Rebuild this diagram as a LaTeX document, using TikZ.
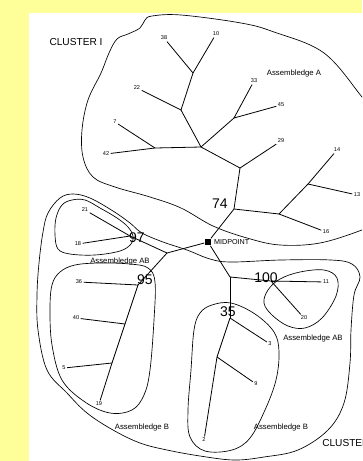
\documentclass[tikz,border=0pt]{standalone}
\usepackage{fontspec}
\setmainfont{Liberation Sans}
\usepackage{xcolor}
\definecolor{padyellow}{RGB}{255,255,153}
\usepackage{tikz}
\usetikzlibrary{positioning}

\begin{document}
\begin{tikzpicture}[
  x=0.75pt, y=-0.75pt,
  leafnum/.style={inner sep=1pt, font=\fontsize{4.2}{5}\selectfont},
  bignum/.style={inner sep=0pt, font=\fontsize{10.5}{11}\selectfont},
  grouplbl/.style={inner sep=0pt, font=\fontsize{5.8}{6}\selectfont},
  clusterlbl/.style={inner sep=0pt, font=\fontsize{7.6}{8}\selectfont},
  branch/.style={draw=black, line width=0.6pt},
  hull/.style={draw=black, line width=0.5pt}
]

%% Page and yellow margin
\useasboundingbox (0,0) rectangle (362,461);
\clip (0,0) rectangle (362,461);
\fill[padyellow] (0,0) rectangle (362,461);
\fill[white] (29,13) rectangle (362,461);

%% Cluster outlines
\draw[hull] plot[smooth, tension=0.6] coordinates {
  (378,118) (362,97) (324,53) (274,32) (241,23) (181,15) (152,16)
  (145,20) (140,28) (128,34) (117,39) (109,53) (101,73) (88,100)
  (82,130) (83,157) (93,177) (115,187) (150,197) (181,208) (213,226)
  (247,238) (280,245) (320,243) (362,230) (378,222)};
\draw[hull] plot[smooth cycle, tension=0.6] coordinates {
  (60,198) (73,194) (90,198) (113,211) (130,223) (142,233) (163,242)
  (187,250) (210,259) (231,262) (281,260) (331,260) (352,264) (360,277)
  (354,295) (351,330) (350,363) (344,403) (328,430) (298,450) (264,457)
  (234,460) (200,456) (167,450) (140,443) (113,430) (87,413) (67,393)
  (47,370) (38,330) (37,295) (39,263) (43,232) (48,213)};

%% Assembledge outlines
\draw[hull] plot[smooth cycle, tension=0.6] coordinates {
  (62,205) (72,200) (85,200) (100,208) (117,218) (128,227) (133,236)
  (131,244) (120,251) (95,255) (70,254) (58,249) (55,235) (56,218)};
\draw[hull] plot[smooth cycle, tension=0.6] coordinates {
  (60,272) (75,265) (100,263) (130,264) (148,268) (155,282) (154,320)
  (150,370) (144,395) (132,410) (110,413) (85,402) (62,380) (52,345)
  (50,310) (52,285)};
\draw[hull] plot[smooth cycle, tension=0.6] coordinates {
  (264,303) (268,290) (280,279) (300,272) (324,270) (337,278) (336,296)
  (322,318) (305,328) (288,326) (272,315)};
\draw[hull] plot[smooth cycle, tension=0.6] coordinates {
  (200,313) (212,305) (231,303) (255,314) (274,332) (279,352) (276,380)
  (265,410) (250,438) (232,450) (205,451) (190,437) (188,410) (191,370)
  (194,330)};

%% Junctions
\coordinate (j3810) at (193,73);
\coordinate (j22)   at (181,110);
\coordinate (j742)  at (155,148);
\coordinate (jA)    at (201,147);
\coordinate (j3345) at (234,118);
\coordinate (j29)   at (240,168);
\coordinate (j74)   at (234,209);
\coordinate (j16)   at (279,214);
\coordinate (j1413) at (308,184);
\coordinate (jL)    at (167,253);
\coordinate (j97)   at (130,236);
\coordinate (j95)   at (138,285);
\coordinate (j40)   at (125,324);
\coordinate (j5)    at (112,363);
\coordinate (jR)    at (230,277);
\coordinate (j100)  at (271,281);
\coordinate (j35)   at (230,318);
\coordinate (j9)    at (217,357);

%% Midpoint
\node (mid) [fill=black, minimum size=5.2pt, inner sep=0pt] at (208,242) {};
\node (midlbl) [grouplbl, font=\fontsize{5.4}{6}\selectfont, right=1.6pt of mid] {MIDPOINT};

%% Leaves of cluster I
\node (n38) [leafnum] at (164,38)  {38};
\node (n10) [leafnum] at (216,34)  {10};
\node (n22) [leafnum] at (137,88)  {22};
\node (n7)  [leafnum] at (115,122) {7};
\node (n42) [leafnum] at (106,154) {42};
\node (n33) [leafnum] at (254,81)  {33};
\node (n45) [leafnum] at (281,105) {45};
\node (n29) [leafnum] at (281,141) {29};
\node (n14) [leafnum] at (337,150) {14};
\node (n13) [leafnum] at (357,195) {13};
\node (n16) [leafnum] at (326,232) {16};

%% Leaves of cluster II
\node (n21) [leafnum] at (85,210)  {21};
\node (n18) [leafnum] at (78,244)  {18};
\node (n36) [leafnum] at (79,282)  {36};
\node (n40) [leafnum] at (76,318)  {40};
\node (n5)  [leafnum] at (64,368)  {5};
\node (n19) [leafnum] at (99,404)  {19};
\node (n11) [leafnum] at (326,282) {11};
\node (n20) [leafnum] at (304,318) {20};
\node (n3)  [leafnum] at (270,344) {3};
\node (n9)  [leafnum] at (256,384) {9};
\node (n2)  [leafnum] at (204,440) {2};

%% Branches: cluster I
\draw[branch] (n38) -- (j3810);
\draw[branch] (n10) -- (j3810);
\draw[branch] (j3810) -- (j22);
\draw[branch] (n22) -- (j22);
\draw[branch] (j22) -- (jA);
\draw[branch] (n7) -- (j742);
\draw[branch] (n42) -- (j742);
\draw[branch] (j742) -- (jA);
\draw[branch] (jA) -- (j3345);
\draw[branch] (n33) -- (j3345);
\draw[branch] (n45) -- (j3345);
\draw[branch] (jA) -- (j29);
\draw[branch] (n29) -- (j29);
\draw[branch] (j29) -- (j74);
\draw[branch] (j74) -- (j16);
\draw[branch] (j16) -- (j1413) -- (n14);
\draw[branch] (j1413) -- (n13);
\draw[branch] (j16) -- (n16);
\draw[branch] (j74) -- (mid);

%% Branches: cluster II
\draw[branch] (mid) -- (jL);
\draw[branch] (jL) -- (j97);
\draw[branch] (n21) -- (j97);
\draw[branch] (n18) -- (j97);
\draw[branch] (jL) -- (j95);
\draw[branch] (n36) -- (j95);
\draw[branch] (j95) -- (j40) -- (j5) -- (n19);
\draw[branch] (n40) -- (j40);
\draw[branch] (n5) -- (j5);
\draw[branch] (mid) -- (jR);
\draw[branch] (jR) -- (j100) -- (n11);
\draw[branch] (j100) -- (n20);
\draw[branch] (jR) -- (j35);
\draw[branch] (j35) -- (n3);
\draw[branch] (j35) -- (j9) -- (n2);
\draw[branch] (j9) -- (n9);

%% Support values
\node (b74)  [bignum] at (220,204) {74};
\node (b97)  [bignum] at (137,238) {97};
\node (b95)  [bignum] at (145,280) {95};
\node (b100) [bignum] at (266,278) {100};
\node (b35)  [bignum] at (228,312) {35};

%% Group and cluster names
\node (clI)  [clusterlbl] at (76,42) {CLUSTER I};
\node (clII) [clusterlbl, anchor=west] at (322,443) {CLUSTER II};
\node (asA)  [grouplbl] at (294,73)  {Assembledge A};
\node (asABl)[grouplbl] at (120,261) {Assembledge AB};
\node (asBl) [grouplbl] at (142,427) {Assembledge B};
\node (asABr)[grouplbl] at (313,338) {Assembledge AB};
\node (asBr) [grouplbl] at (281,427) {Assembledge B};

\end{tikzpicture}
\end{document}
